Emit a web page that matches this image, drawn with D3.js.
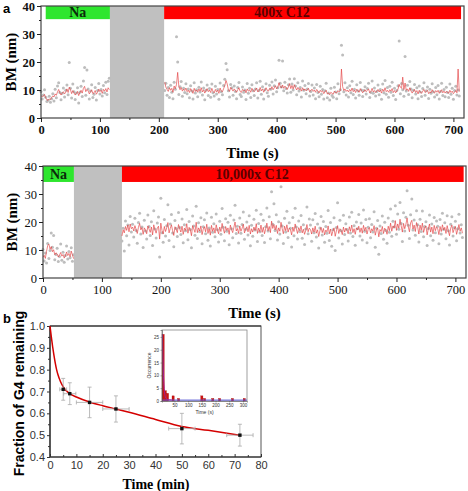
<!DOCTYPE html>
<html><head><meta charset="utf-8">
<script src="https://cdn.jsdelivr.net/npm/d3@7"></script>
<style>
body{margin:0;background:#fff;}
svg{display:block;}
</style></head>
<body>
<svg id="c" width="468" height="491"></svg>
<script>
// ---------------- DATA ----------------
const sampleStep = 2; // s between samples
// Panel a (top): Na segment and 400x C12 segment
const topNaStart = 0;
const topNaDots = [9.5,6.8,8.2,10.1,7.4,5.9,6.3,7.8,5.6,6.9,
8.7,6.1,10.3,7.2,11.4,12.6,9.1,6.5,8.8,10.7,
7.5,9.9,11.8,8.3,19.8,10.6,7.1,12.1,9.4,6.6,
8.9,10.8,5.4,9.2,11.3,7.7,13.2,18.0,8.1,17.1,
10.4,6.8,9.6,11.9,7.3,8.5,10.9,6.4,9.8,12.3,
8.6,10.2,7.9,11.6,9.0,12.8,8.4,13.1,14.2];
const topNaLine = [8.0,7.6,7.8,8.4,7.2,6.5,6.3,6.8,6.6,7.3,
7.9,7.5,8.6,8.1,9.3,10.2,9.0,8.2,8.9,9.4,
8.6,9.2,10.4,9.1,11.0,10.1,8.7,9.8,9.0,8.2,
8.8,9.5,8.0,9.1,9.9,8.9,10.6,11.3,9.4,10.2,
9.7,8.6,9.3,10.1,8.7,9.0,9.8,8.5,9.2,10.3,
9.4,9.9,8.8,10.2,9.6,10.5,9.3,10.8,10.1];
const topC12Start = 210;
const topC12Dots = [9.8,12.4,8.1,10.9,7.3,11.7,9.2,6.9,12.8,10.3,
29.0,20.0,8.4,11.2,13.0,7.8,10.6,9.1,12.2,8.7,
10.4,7.2,11.5,9.6,6.8,12.6,8.9,10.1,7.6,11.0,
9.3,12.9,8.2,10.7,6.5,9.9,11.8,8.0,10.5,7.4,
12.1,9.0,7.9,11.3,8.6,10.2,6.7,12.5,9.4,8.3,
11.6,13.8,19.5,17.2,9.7,7.5,12.0,10.8,8.1,11.4,
9.5,6.9,10.9,12.7,8.4,7.7,11.1,9.2,10.0,6.6,
12.3,8.8,10.6,7.3,11.9,9.7,8.0,10.4,12.6,7.1,
9.8,13.1,8.5,11.2,6.8,10.1,12.2,9.0,7.8,11.7,
10.3,12.9,8.6,11.5,13.6,9.4,10.8,20.6,12.4,11.1,
20.4,9.7,12.8,10.5,8.9,11.9,13.9,9.2,12.1,10.0,
14.0,11.4,8.3,12.6,9.6,10.9,7.5,13.2,9.9,11.6,
8.7,10.4,12.3,7.9,9.5,11.8,8.2,10.7,6.9,12.0,
9.1,7.6,11.3,8.5,10.2,6.8,9.7,12.4,7.2,8.9,
6.4,10.6,8.0,7.4,11.0,9.3,6.9,12.2,8.7,10.1,
26.0,22.5,9.4,12.6,8.2,10.8,7.5,11.5,9.0,13.1,
8.4,10.3,7.1,11.9,9.6,8.1,12.7,10.0,7.7,9.8,
11.2,8.6,10.5,12.4,7.3,9.1,13.2,8.8,10.7,7.9,
9.5,11.8,8.3,10.2,6.7,12.1,9.0,13.4,8.5,10.9,
7.4,11.3,9.2,12.8,8.0,10.6,6.6,9.8,11.5,27.5,
8.7,12.3,10.1,7.8,22.0,9.6,11.7,8.4,13.0,10.4,
7.2,9.9,12.0,8.6,10.8,6.9,11.4,9.3,7.7,10.5,
12.6,8.1,9.7,11.1,7.0,10.3,8.8,12.2,9.4,7.5,
10.9,8.3,11.6,6.8,9.5,12.4,8.0,10.2,7.6,11.0,
9.1,7.3,12.1,8.5,10.6,6.7,9.8,11.3,8.2,10.0,
7.9];
const topC12Line = [12.8,11.0,10.2,9.5,10.8,9.9,10.6,9.2,11.4,10.5,
12.0,16.3,11.2,10.1,10.9,9.6,10.3,9.8,10.7,9.4,
9.9,9.1,10.5,9.7,8.8,10.6,9.5,10.0,9.2,10.4,
9.6,10.8,9.3,10.1,8.9,9.7,10.5,9.4,10.0,9.1,
10.6,9.5,9.0,10.2,9.3,9.9,8.8,10.7,9.6,9.4,
10.5,11.6,13.4,12.2,10.1,9.5,10.9,10.3,9.6,10.4,
9.8,9.2,10.1,10.8,9.5,9.1,10.2,9.7,9.9,9.0,
10.4,9.6,10.0,9.2,10.6,9.9,9.4,10.1,10.7,9.3,
9.8,10.9,9.7,10.4,9.2,10.0,10.8,9.9,9.6,10.6,
10.3,11.2,10.1,10.8,11.5,10.4,11.0,12.6,11.3,10.7,
11.8,10.6,11.4,10.9,10.2,11.1,12.3,10.5,11.6,10.4,
11.9,10.8,10.0,10.9,10.1,10.5,9.6,10.8,9.9,10.4,
9.7,10.1,10.6,9.4,9.8,10.3,9.5,10.0,9.2,10.2,
9.6,9.0,9.9,9.3,9.7,8.7,9.4,9.9,8.6,8.9,
8.3,9.2,8.8,8.5,9.6,9.1,8.9,9.8,9.3,9.7,
17.5,11.2,9.8,10.4,9.5,10.0,9.3,10.2,9.6,10.7,
9.4,9.9,9.1,10.3,9.7,9.2,10.5,9.8,9.0,9.6,
10.1,9.4,9.9,10.4,9.0,9.5,10.6,9.3,9.8,9.1,
9.6,10.2,9.3,9.9,8.9,10.3,9.5,10.8,9.4,9.9,
9.2,10.1,9.6,10.5,9.1,9.8,9.0,9.7,10.3,12.0,
11.0,10.6,14.6,10.2,12.5,9.9,10.4,9.5,10.8,9.7,
8.9,9.5,10.2,9.1,9.8,8.6,9.9,9.3,8.8,9.6,
10.2,9.1,9.5,9.9,8.7,9.4,9.0,10.1,9.3,8.9,
9.8,9.2,9.9,8.8,9.4,10.1,9.0,9.6,8.9,9.5,
9.3,8.8,9.9,9.1,9.6,8.7,9.2,9.8,9.0,17.5,
9.4];
// Panel a (bottom): Na segment and 10,000x C12 segment
const botNaStart = 0;
const botNaDots = [10.2,6.1,8.9,5.4,12.3,7.0,9.8,16.1,11.0,15.2,6.5,8.4,10.6,5.9,7.7,12.1,6.3,9.2,5.6,8.0,11.4,6.8,9.5,7.2,10.8,6.0,8.3];
const botNaLine = [7.4,8.1,7.0,9.5,11.6,12.1,10.3,11.2,9.4,10.1,8.3,9.0,8.6,7.5,8.2,9.1,7.8,8.4,7.1,7.9,9.3,8.0,8.8,7.6,9.6,8.2,6.9];
const botC12Start = 134;
const botC12Dots = [13.2,17.8,9.6,20.4,15.1,18.9,11.8,22.0,16.4,19.2,
14.6,21.3,17.0,12.4,19.8,23.1,15.7,18.2,10.9,20.6,
16.8,13.9,22.5,18.4,15.2,20.1,11.6,24.0,17.5,14.3,
19.6,21.8,7.5,28.5,16.2,12.8,20.9,15.0,18.7,26.2,
13.4,19.3,22.7,16.1,11.2,20.5,17.7,14.8,23.4,18.0,
15.5,21.1,12.6,19.0,16.9,24.5,13.7,20.2,17.3,10.8,
22.1,18.6,15.3,25.6,14.1,19.7,16.6,21.5,12.2,18.3,
20.8,15.8,23.2,13.5,17.9,11.4,21.7,16.3,19.4,14.7,
22.9,17.2,12.9,20.3,15.6,24.8,18.1,13.3,21.2,16.7,
19.9,11.9,22.4,17.6,14.4,20.7,26.0,15.9,18.5,12.5,
21.4,16.0,19.1,23.6,13.8,17.4,20.0,15.4,22.2,11.5,
18.8,14.9,21.0,17.1,24.2,13.0,19.5,16.5,22.8,15.2,
20.6,12.7,18.3,25.0,16.8,21.9,14.0,30.8,19.2,26.5,
17.0,22.6,13.6,20.1,15.7,32.6,18.6,12.3,21.3,16.4,
23.8,14.5,19.7,17.8,11.1,21.6,15.1,24.9,18.2,13.9,
20.4,16.6,22.3,14.2,19.0,12.0,17.5,25.4,15.8,21.1,
18.9,13.1,20.8,16.2,23.0,14.6,19.3,10.7,17.9,22.0,
15.4,20.2,12.8,18.4,16.0,24.1,13.4,19.8,11.3,17.2,
21.5,9.8,18.0,26.9,14.3,20.6,16.9,12.1,22.4,15.5,
19.4,17.3,13.2,21.8,16.1,23.5,14.8,18.7,11.7,20.0,
17.6,22.7,15.0,19.6,13.6,24.3,16.7,20.9,12.6,18.1,
21.2,14.4,19.1,16.4,23.7,11.0,17.8,20.5,8.5,18.6,
15.9,22.1,13.8,19.9,17.0,12.4,21.4,16.3,24.6,14.9,
20.3,18.2,25.8,15.6,22.9,17.4,27.0,19.5,13.0,23.3,
16.8,21.7,31.2,18.8,14.1,22.6,28.2,17.1,20.7,15.3,
24.0,19.0,12.9,21.0,16.6,23.9,14.7,18.4,20.1,11.6,
17.7,22.5,15.1,19.3,13.5,21.6,16.2,20.4,18.5,12.2,
20.9,15.7,23.1,17.3,19.7,14.0,22.2,16.9,11.8,19.2,
21.9,15.0,18.0,20.3,13.3,17.6,22.8,16.1,19.0,14.5];
const botC12Line = [15.0,17.2,16.1,18.4,17.0,18.9,16.5,19.3,17.6,18.2,
16.8,18.7,17.4,15.9,18.1,19.5,17.2,18.0,15.6,17.9,
17.1,15.8,18.6,17.5,16.3,18.2,15.4,19.0,17.3,16.0,
17.8,18.5,13.9,19.6,17.0,15.7,18.4,16.6,17.9,19.8,
16.1,17.7,19.0,16.9,15.2,18.3,17.4,16.2,19.1,17.6,
16.4,18.5,15.6,17.8,17.0,19.4,16.0,18.1,17.2,15.1,
18.7,17.5,16.3,19.9,16.2,17.9,16.8,18.6,15.5,17.4,
18.3,16.5,19.2,15.9,17.6,15.3,18.8,16.7,17.9,16.0,
19.0,17.1,15.8,18.2,16.6,19.5,17.5,16.0,18.4,17.0,
17.9,15.6,18.9,17.3,16.2,18.1,20.0,16.8,17.7,15.9,
18.6,16.7,17.8,19.2,16.1,17.4,18.3,16.5,18.8,15.7,
17.6,16.4,18.2,17.0,19.4,15.9,17.8,16.6,18.9,16.3,
18.1,15.8,17.5,19.6,16.9,18.4,16.2,20.3,17.7,19.1,
17.2,18.8,15.9,17.9,16.7,19.9,17.6,15.8,18.5,16.9,
19.0,16.4,17.8,17.3,15.4,18.2,16.6,19.3,17.5,15.9,
18.0,16.9,18.6,16.1,17.4,15.6,17.0,19.1,16.5,17.8,
17.3,15.7,17.9,16.4,18.5,16.0,17.2,14.8,16.8,18.1,
16.2,17.7,15.4,17.1,16.5,18.6,15.8,17.5,15.1,16.7,
17.9,14.9,16.8,18.7,15.9,17.6,16.9,15.5,18.2,16.4,
17.8,17.0,15.8,18.3,16.7,18.9,16.2,17.6,15.6,17.9,
17.2,18.5,16.3,17.9,16.0,18.8,16.9,18.1,15.7,17.4,
18.0,16.1,17.6,16.8,18.7,15.3,17.1,17.9,14.7,17.3,
16.6,18.4,15.9,17.8,17.0,15.6,18.5,16.9,19.6,16.7,
18.6,17.9,20.5,17.0,19.3,17.8,21.0,18.6,16.4,19.5,
17.6,19.2,21.4,18.3,16.5,19.7,20.6,17.5,18.9,16.6,
19.8,18.2,15.7,18.9,17.1,19.6,16.3,17.9,18.6,15.4,
17.5,19.3,16.4,18.2,15.8,18.8,16.9,18.3,17.6,15.5,
18.4,16.6,19.0,17.2,18.1,15.9,18.7,16.8,15.1,17.8,
18.9,16.2,17.5,18.4,15.6,17.2,19.1,16.7,17.9,16.0];
// Condition bars (time ranges in s)
const topPhases = [{label:"Na", from:8, to:117, kind:"na"},{label:"", from:117, to:209, kind:"gap"},{label:"400x C12", from:209, to:713, kind:"c12", textAt:409}];
const botPhases = [{label:"Na", from:0, to:52.5, kind:"na"},{label:"", from:52.5, to:134, kind:"gap"},{label:"10,000x C12", from:134, to:714, kind:"c12", textAt:355}];
const bmTicks = [0,10,20,30,40];
const timeTicks = [0,100,200,300,400,500,600,700];

// Panel b
const bTime = [5, 7.5, 15, 25, 50, 72];
const bFrac = [0.71, 0.69, 0.65, 0.62, 0.53, 0.50];
const bYErr = [0.05, 0.05, 0.07, 0.06, 0.07, 0.05];
const bXErr = [1.3, 2.3, 5, 5, 5, 5];
const fitTime = [0, 0.5, 1, 1.5, 2, 2.5, 3, 4, 5, 6, 7.5, 10, 15, 20, 25, 30, 40, 50, 60, 72];
const fitFrac = [1.0, 0.95, 0.905, 0.865, 0.83, 0.80, 0.778, 0.745, 0.722, 0.706, 0.69, 0.675, 0.652, 0.635, 0.62, 0.605, 0.572, 0.54, 0.522, 0.50];
const bXTicks = [0,10,20,30,40,50,60,70,80];
const bYTicks = [0.4,0.5,0.6,0.7,0.8,0.9,1.0];

// Inset histogram
const histCenter = [8.5, 16.5, 24.5, 45, 65, 150, 160, 190, 215, 262, 305];
const histCount  = [26, 4, 3, 2, 1, 2, 1, 1, 1, 1, 1];
const histWidth = 8;
const decayTime = [6, 7, 8, 9, 10, 12, 14, 17, 20, 25, 30, 40];
const decayCount = [26, 21, 16.5, 12.5, 9.5, 5.5, 3.2, 1.6, 0.9, 0.55, 0.45, 0.4];
const baseLevel = 0.35;
const insetXTicks = [50,100,150,200,250,300];
const insetYTicks = [0,5,10,15,20,25];

// ---------------- DRAW ----------------
const svg = d3.select("#c");
const SERIF = "'Liberation Serif','Times New Roman',serif";
const SANS = "'Liberation Sans',Arial,sans-serif";

svg.append("text").attr("x",3).attr("y",13).text("a")
  .style("font-family",SANS).style("font-weight","bold").style("font-size","13px");
svg.append("text").attr("x",3).attr("y",323).text("b")
  .style("font-family",SANS).style("font-weight","bold").style("font-size","13px");

function series(start, dots, line){
  return dots.map((v,i)=>({t:start+i*sampleStep, v, m:line[i]}));
}

function tsPanel(o){
  const x = d3.scaleLinear().domain([0,718]).range([o.left,o.right]);
  const y = d3.scaleLinear().domain([0,40]).range([o.bottom,o.top]);
  const g = svg.append("g");
  const tickW = o.boldTicks ? "bold" : "normal";
  o.phases.forEach(p=>{
    if(p.kind==="gap"){
      g.append("rect").attr("x",x(p.from)).attr("y",y(40)).attr("width",x(p.to)-x(p.from)).attr("height",y(0)-y(40)).attr("fill","#c0c0c0");
    } else {
      g.append("rect").attr("x",x(p.from)).attr("y",y(40)).attr("width",x(p.to)-x(p.from)).attr("height",y(o.barLow)-y(40))
        .attr("fill",p.kind==="na"?"#2ee62e":"#ff0000");
      g.append("text").attr("x",x(p.textAt!==undefined?p.textAt:(p.from+p.to)/2)).attr("y",y(o.barLow)-2.5)
        .attr("text-anchor","middle").text(p.label)
        .style("font-family",SERIF).style("font-weight","bold").style("font-size","14px")
        .attr("fill",p.kind==="na"?"#0b2a0b":"#5a0000");
    }
  });
  const line = d3.line().x(d=>x(d.t)).y(d=>y(d.m));
  o.segments.forEach(s=>{
    g.append("g").selectAll("circle").data(s).join("circle")
      .attr("cx",d=>x(d.t)).attr("cy",d=>y(d.v)).attr("r",1.5).attr("fill","#bdbdbd");
  });
  o.segments.forEach(s=>{
    g.append("path").datum(s).attr("d",line).attr("fill","none")
      .attr("stroke","#e2393b").attr("stroke-width",0.7).attr("opacity",0.9);
  });
  g.append("rect").attr("x",o.left).attr("y",o.top).attr("width",o.right-o.left).attr("height",o.bottom-o.top)
    .attr("fill","none").attr("stroke","#444").attr("stroke-width",1.2);
  const ax = g.append("g").attr("transform",`translate(0,${o.bottom})`)
    .call(d3.axisBottom(x).tickValues(timeTicks).tickSize(4).tickPadding(3));
  const axm = g.append("g").attr("transform",`translate(0,${o.bottom})`)
    .call(d3.axisBottom(x).tickValues(timeTicks.map(t=>t+50)).tickSize(2).tickFormat(""));
  const ay = g.append("g").attr("transform",`translate(${o.left},0)`)
    .call(d3.axisLeft(y).tickValues(bmTicks).tickSize(4).tickPadding(2));
  const aym = g.append("g").attr("transform",`translate(${o.left},0)`)
    .call(d3.axisLeft(y).tickValues([5,15,25,35]).tickSize(2).tickFormat(""));
  [ax,axm,ay,aym].forEach(a=>{a.select(".domain").remove(); a.selectAll("line").attr("stroke","#222").attr("stroke-width",1);});
  [ax,ay].forEach(a=>a.selectAll("text").style("font-family",SERIF).style("font-size","12.5px").style("font-weight",tickW).attr("fill","#111"));
  g.append("text").attr("transform",`translate(${o.ylabX},${(o.top+o.bottom)/2}) rotate(-90)`).attr("text-anchor","middle")
    .text("BM (nm)").style("font-family",SERIF).style("font-weight","bold").style("font-size","15px");
  g.append("text").attr("x",(o.left+o.right)/2).attr("y",o.xlabY).attr("text-anchor","middle")
    .text("Time (s)").style("font-family",SERIF).style("font-weight","bold").style("font-size","15px");
}

tsPanel({left:41,right:464,top:6,bottom:118,barLow:35.3,phases:topPhases,boldTicks:true,ylabX:16,xlabY:158,
  segments:[series(topNaStart,topNaDots,topNaLine),series(topC12Start,topC12Dots,topC12Line)]});
tsPanel({left:43,right:466,top:166,bottom:278,barLow:34.3,phases:botPhases,boldTicks:false,ylabX:17,xlabY:318,
  segments:[series(botNaStart,botNaDots,botNaLine),series(botC12Start,botC12Dots,botC12Line)]});

// ----- Panel b -----
(function(){
  const L=50,R=261,T=326,B=457;
  const x = d3.scaleLinear().domain([0,80]).range([L,R]);
  const y = d3.scaleLinear().domain([0.4,1.0]).range([B,T]);
  const g = svg.append("g");
  g.append("rect").attr("x",L).attr("y",T).attr("width",R-L).attr("height",B-T).attr("fill","none").attr("stroke","#555").attr("stroke-width",1);
  g.append("line").attr("x1",L).attr("x2",R).attr("y1",T).attr("y2",T).attr("stroke","#222").attr("stroke-width",1.2);
  g.append("line").attr("x1",L).attr("x2",L).attr("y1",T).attr("y2",B).attr("stroke","#222").attr("stroke-width",1.2);
  g.append("line").attr("x1",L).attr("x2",R).attr("y1",B).attr("y2",B).attr("stroke","#222").attr("stroke-width",1.2);
  const ax = g.append("g").attr("transform",`translate(0,${B})`).call(d3.axisBottom(x).tickValues(bXTicks).tickSize(-3).tickPadding(4));
  const axm = g.append("g").attr("transform",`translate(0,${B})`).call(d3.axisBottom(x).tickValues(bXTicks.slice(0,-1).map(v=>v+5)).tickSize(-2).tickFormat(""));
  const ay = g.append("g").attr("transform",`translate(${L},0)`).call(d3.axisLeft(y).tickValues(bYTicks).tickSize(3).tickPadding(2).tickFormat(d3.format(".1f")));
  const aym = g.append("g").attr("transform",`translate(${L},0)`).call(d3.axisLeft(y).tickValues([0.45,0.55,0.65,0.75,0.85,0.95]).tickSize(2).tickFormat(""));
  [ax,axm,ay,aym].forEach(a=>{a.select(".domain").remove(); a.selectAll("line").attr("stroke","#333");});
  [ax,ay].forEach(a=>a.selectAll("text").style("font-family",SANS).style("font-size","11px").attr("fill","#333"));
  g.append("text").attr("transform",`translate(24,${(T+B)/2+2}) rotate(-90)`).attr("text-anchor","middle")
    .text("Fraction of G4 remaining").style("font-family",SANS).style("font-weight","bold").style("font-size","14px");
  g.append("text").attr("x",156).attr("y",489).attr("text-anchor","middle")
    .text("Time (min)").style("font-family",SERIF).style("font-weight","bold").style("font-size","14px");

  const iL=162,iR=247,iT=330,iB=401;
  const ix = d3.scaleLinear().domain([4.4,315]).range([iL,iR]);
  const iy = d3.scaleLinear().domain([0,27.7]).range([iB,iT]);
  const gi = g.append("g");
  gi.append("rect").attr("x",iL).attr("y",iT).attr("width",iR-iL).attr("height",iB-iT).attr("fill","#fff").attr("stroke","#888").attr("stroke-width",0.8);
  gi.selectAll("rect.bar").data(histCenter).join("rect").attr("class","bar")
    .attr("x",(d)=>ix(d-histWidth/2)).attr("width",ix(histWidth)-ix(0)).attr("y",(d,i)=>iy(histCount[i])).attr("height",(d,i)=>iB-iy(histCount[i]))
    .attr("fill","#d01010").attr("stroke","#900").attr("stroke-width",0.3);
  gi.append("line").attr("x1",ix(4.4)).attr("x2",ix(315)).attr("y1",iy(baseLevel)).attr("y2",iy(baseLevel)).attr("stroke","#5b5bd6").attr("stroke-width",1);
  gi.append("path").datum(decayTime.map((t,i)=>[t,decayCount[i]]))
    .attr("d",d3.line().x(d=>ix(d[0])).y(d=>iy(d[1])).curve(d3.curveMonotoneX)).attr("fill","none").attr("stroke","#a0209a").attr("stroke-width",1);
  const iax = gi.append("g").attr("transform",`translate(0,${iB})`).call(d3.axisBottom(ix).tickValues(insetXTicks).tickSize(1.5).tickPadding(1.5));
  const iay = gi.append("g").attr("transform",`translate(${iL},0)`).call(d3.axisLeft(iy).tickValues(insetYTicks).tickSize(1.5).tickPadding(1.5));
  [iax,iay].forEach(a=>{a.select(".domain").attr("stroke","#555").attr("stroke-width",0.6); a.selectAll("line").attr("stroke","#555").attr("stroke-width",0.5);
    a.selectAll("text").style("font-family",SANS).style("font-size","4.5px").attr("fill","#333");});
  gi.append("text").attr("transform",`translate(151,${(iT+iB)/2}) rotate(-90)`).attr("text-anchor","middle")
    .text("Occurrence").style("font-family",SANS).style("font-size","5px").attr("fill","#333");
  gi.append("text").attr("x",(iL+iR)/2).attr("y",414).attr("text-anchor","middle")
    .text("Time (s)").style("font-family",SANS).style("font-size","5px").attr("fill","#333");

  g.append("path").datum(fitTime.map((t,i)=>[t,fitFrac[i]]))
    .attr("d",d3.line().x(d=>x(d[0])).y(d=>y(d[1])).curve(d3.curveMonotoneX))
    .attr("fill","none").attr("stroke","#d40000").attr("stroke-width",1.5);
  const eb = g.append("g").attr("stroke","#aaa").attr("stroke-width",0.8);
  bTime.forEach((t,i)=>{
    const cx=x(t), cy=y(bFrac[i]);
    eb.append("line").attr("x1",cx).attr("x2",cx).attr("y1",y(bFrac[i]-bYErr[i])).attr("y2",y(bFrac[i]+bYErr[i]));
    eb.append("line").attr("x1",cx-2).attr("x2",cx+2).attr("y1",y(bFrac[i]-bYErr[i])).attr("y2",y(bFrac[i]-bYErr[i]));
    eb.append("line").attr("x1",cx-2).attr("x2",cx+2).attr("y1",y(bFrac[i]+bYErr[i])).attr("y2",y(bFrac[i]+bYErr[i]));
    eb.append("line").attr("x1",x(t-bXErr[i])).attr("x2",x(t+bXErr[i])).attr("y1",cy).attr("y2",cy);
    eb.append("line").attr("x1",x(t-bXErr[i])).attr("x2",x(t-bXErr[i])).attr("y1",cy-2).attr("y2",cy+2);
    eb.append("line").attr("x1",x(t+bXErr[i])).attr("x2",x(t+bXErr[i])).attr("y1",cy-2).attr("y2",cy+2);
  });
  g.selectAll("rect.pt").data(bTime).join("rect").attr("class","pt")
    .attr("x",d=>x(d)-1.7).attr("y",(d,i)=>y(bFrac[i])-1.7).attr("width",3.4).attr("height",3.4).attr("fill","#111");
})();
</script>
</body></html>
